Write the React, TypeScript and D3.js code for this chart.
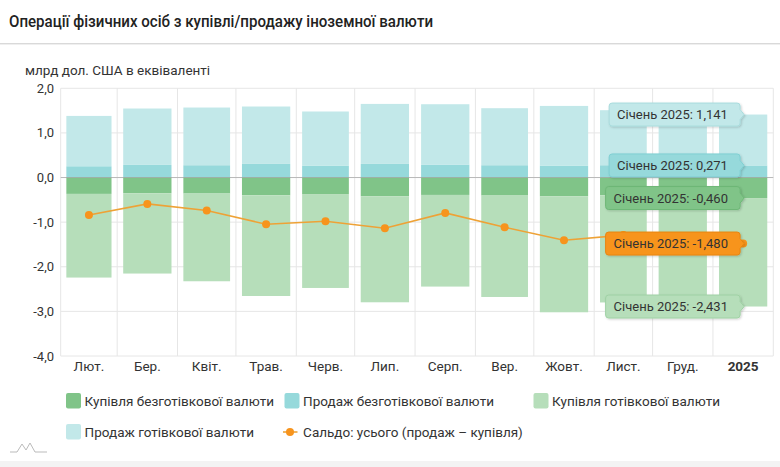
import React from "react";
import * as d3 from "d3";

const months = ["2024-02-01","2024-03-01","2024-04-01","2024-05-01","2024-06-01","2024-07-01","2024-08-01","2024-09-01","2024-10-01","2024-11-01","2024-12-01","2025-01-01"];
const tickLabels = ["Лют.","Бер.","Квіт.","Трав.","Черв.","Лип.","Серп.","Вер.","Жовт.","Лист.","Груд.","2025"];
const nonCashPurchase = [-0.367,-0.352,-0.359,-0.397,-0.381,-0.419,-0.390,-0.404,-0.419,-0.397,-0.430,-0.460];
const nonCashSale = [0.253,0.283,0.276,0.305,0.269,0.305,0.291,0.276,0.269,0.276,0.280,0.271];
const cashPurchase = [-1.875,-1.800,-1.966,-2.258,-2.094,-2.377,-2.054,-2.273,-2.601,-2.403,-2.320,-2.431];
const cashSale = [1.128,1.264,1.293,1.287,1.211,1.345,1.352,1.278,1.336,1.233,1.120,1.141];
const saldo = [-0.838,-0.591,-0.740,-1.047,-0.980,-1.137,-0.793,-1.114,-1.406,-1.290,-1.350,-1.480];
const yTicks = [2, 1, 0, -1, -2, -3, -4];
const seriesNames = ["Купівля безготівкової валюти","Продаж безготівкової валюти","Купівля готівкової валюти","Продаж готівкової валюти","Сальдо: усього (продаж – купівля)"];
const tooltipPrefix = "Січень 2025: ";
const title = "Операції фізичних осіб з купівлі/продажу іноземної валюти";
const yTitle = "млрд дол. США в еквіваленті";

const C = {
  ncBuy: "#80c488",
  ncSale: "#96d9db",
  cBuy: "#b6deba",
  cSale: "#c2e8e9",
  saldo: "#f7941d",
  line: "#eea236",
};

const W = 780, H = 467;
const FONT = "Roboto, 'Noto Sans', sans-serif";

export default function App() {
  const dates = months.map((m) => new Date(m + "T00:00:00"));
  const endDate = new Date("2025-02-01T00:00:00");
  const x = d3.scaleTime().domain([dates[0], endDate]).range([60.7, 773.3]);
  const y = d3.scaleLinear().domain([-4, 2]).range([356, 88.3]);

  const rows = months.map((m, i) => ({
    i,
    ncSale: nonCashSale[i],
    cSale: cashSale[i],
    ncBuy: nonCashPurchase[i],
    cBuy: cashPurchase[i],
  }));
  const keys = ["ncSale", "cSale", "ncBuy", "cBuy"] as const;
  const stacked = d3.stack<any>().keys(keys as any).offset(d3.stackOffsetDiverging)(rows);

  const monthStart = (i: number) => x(dates[i]);
  const monthEnd = (i: number) => x(i + 1 < dates.length ? dates[i + 1] : endDate);
  const center = (i: number) => (monthStart(i) + monthEnd(i)) / 2;

  const boundaries = [...dates, endDate];
  const line = d3.line<number>().x((_, i) => center(i)).y((d) => y(d));

  const fmt = (v: number) => d3.format(".3f")(v).replace(".", ",").replace("−", "-");

  const last = months.length - 1;
  const lastSale = nonCashSale[last] + cashSale[last];
  const lastBuy = nonCashPurchase[last] + cashPurchase[last];
  const tips = [
    { v: cashSale[last], yy: y(lastSale), fill: C.cSale, stroke: "#a9dcdd" },
    { v: nonCashSale[last], yy: y(nonCashSale[last]), fill: C.ncSale, stroke: "#7fcfd2" },
    { v: nonCashPurchase[last], yy: y(nonCashPurchase[last]), fill: C.ncBuy, stroke: "#6db776" },
    { v: saldo[last], yy: y(saldo[last]), fill: C.saldo, stroke: "#e8850f" },
    { v: cashPurchase[last], yy: y(lastBuy), fill: C.cBuy, stroke: "#9fd1a4" },
  ];
  const tipX = center(last) + 1;

  const legendItems = [
    { name: seriesNames[0], color: C.ncBuy, lx: 66, ly: 401, type: "rect" },
    { name: seriesNames[1], color: C.ncSale, lx: 284.5, ly: 401, type: "rect" },
    { name: seriesNames[2], color: C.cBuy, lx: 533.5, ly: 401, type: "rect" },
    { name: seriesNames[3], color: C.cSale, lx: 66, ly: 432, type: "rect" },
    { name: seriesNames[4], color: C.saldo, lx: 284.5, ly: 432, type: "line" },
  ];
  const fillFor: Record<string, string> = { ncSale: C.ncSale, cSale: C.cSale, ncBuy: C.ncBuy, cBuy: C.cBuy };

  return (
    <svg width={W} height={H} style={{ position: "absolute", left: 0, top: 0, background: "#fff" }} fontFamily={FONT}>
      <defs>
        <filter id="sh" x="-10%" y="-20%" width="130%" height="160%">
          <feDropShadow dx="1" dy="1" stdDeviation="1" floodColor="#000" floodOpacity="0.18" />
        </filter>
      </defs>
      <rect x={0} y={0} width={W} height={H} fill="#fff" />
      <text x={9} y={26.5} fontSize={16} fontWeight={500} fill="#222" textLength={424} lengthAdjust="spacingAndGlyphs">{title}</text>
      <line x1={0} x2={W} y1={43.5} y2={43.5} stroke="#d9d9d9" />
      <line x1={0} x2={W} y1={44.5} y2={44.5} stroke="#efefef" />

      <text x={25} y={75} fontSize={13.5} fill="#333">{yTitle}</text>

      {/* grid */}
      {yTicks.map((t) => (
        <line key={"h" + t} x1={x.range()[0]} x2={x.range()[1]} y1={y(t)} y2={y(t)} stroke="#e6e6e6" />
      ))}
      {boundaries.map((d, i) => (
        <line key={"v" + i} x1={x(d)} x2={x(d)} y1={y(2)} y2={y(-4)} stroke="#e6e6e6" />
      ))}
      {yTicks.map((t) => (
        <text key={"yl" + t} x={54} y={y(t) + 4.5} fontSize={13} fill="#333" textAnchor="end">
          {d3.format(".1f")(t).replace(".", ",").replace("−", "-")}
        </text>
      ))}
      {tickLabels.map((l, i) => (
        <text key={"xl" + i} x={center(i)} y={371} fontSize={13.5} fill="#333" textAnchor="middle" fontWeight={i === last ? 700 : 400}>
          {l}
        </text>
      ))}

      {/* bars */}
      {stacked.map((s) => (
        <g key={s.key} fill={fillFor[s.key]}>
          {s.map((d, i) => {
            const w = monthEnd(i) - monthStart(i);
            const y0 = y(d[0]), y1 = y(d[1]);
            return (
              <rect key={i} x={monthStart(i) + w * 0.1} width={w * 0.8} y={Math.min(y0, y1)} height={Math.abs(y1 - y0)} />
            );
          })}
        </g>
      ))}
      <line x1={x.range()[0]} x2={x.range()[1]} y1={y(0)} y2={y(0)} stroke="#999" strokeOpacity={0.6} />

      {/* saldo line */}
      <path d={line(saldo) || ""} fill="none" stroke={C.line} strokeWidth={1.6} />
      {saldo.map((v, i) => (
        <circle key={"m" + i} cx={center(i)} cy={y(v)} r={4} fill={C.saldo} />
      ))}

      {/* tooltips */}
      {tips.map((t, k) => {
        const label = tooltipPrefix + fmt(t.v);
        const bw = t.v < 0 ? 134.5 : 131;
        const right = tipX - 4;
        const left = right - bw;
        const top = t.yy - 11.5;
        const bh = 23;
        const p = `M ${left + 3} ${top} H ${right - 3} Q ${right} ${top} ${right} ${top + 3} V ${t.yy - 5} L ${tipX} ${t.yy} L ${right} ${t.yy + 5} V ${top + bh - 3} Q ${right} ${top + bh} ${right - 3} ${top + bh} H ${left + 3} Q ${left} ${top + bh} ${left} ${top + bh - 3} V ${top + 3} Q ${left} ${top} ${left + 3} ${top} Z`;
        return (
          <g key={"t" + k}>
            <path d={p} fill={t.fill} stroke={t.stroke} strokeWidth={1} filter="url(#sh)" />
            <text x={left + 8} y={t.yy + 4.5} fontSize={13} fill="#333">{label}</text>
          </g>
        );
      })}

      {/* legend */}
      {legendItems.map((it, k) => (
        <g key={"lg" + k}>
          {it.type === "rect" ? (
            <rect x={it.lx} y={it.ly - 8} width={15} height={15.5} rx={2} fill={it.color} />
          ) : (
            <g>
              <line x1={it.lx - 1.5} x2={it.lx + 13} y1={it.ly} y2={it.ly} stroke={C.line} strokeWidth={1.6} />
              <circle cx={it.lx + 5.5} cy={it.ly} r={4} fill={it.color} />
            </g>
          )}
          <text x={it.lx + 18.6} y={it.ly + 4.5} fontSize={13.5} fill="#333">{it.name}</text>
        </g>
      ))}

      {/* bottom icon & band */}
      <path d="M 10 452 H 17 L 22 444 L 26 450 L 30 443 L 35 452 H 47" fill="none" stroke="#bbb" strokeWidth={1} />
      <rect x={0} y={461} width={W} height={6} fill="#f3f3f3" />
    </svg>
  );
}
